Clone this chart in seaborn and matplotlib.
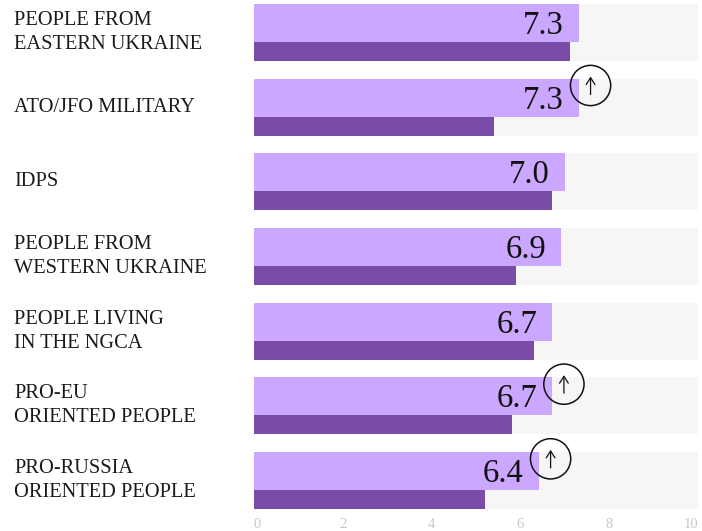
import matplotlib
matplotlib.use("Agg")
import matplotlib.pyplot as plt
from matplotlib.transforms import offset_copy
import pandas as pd
import seaborn as sns

groups = ["PEOPLE FROM\nEASTERN UKRAINE", "ATO/JFO MILITARY", "IDPS",
          "PEOPLE FROM\nWESTERN UKRAINE", "PEOPLE LIVING\nIN THE NGCA",
          "PRO-EU\nORIENTED PEOPLE", "PRO-RUSSIA\nORIENTED PEOPLE"]
current = [7.32, 7.32, 7.0, 6.92, 6.72, 6.72, 6.42]
previous = [7.12, 5.4, 6.72, 5.9, 6.3, 5.8, 5.2]
maximum = [10, 10, 10, 10, 10, 10, 10]
risen = [False, True, False, False, False, True, True]
ticks = [0, 2, 4, 6, 8, 10]

LIGHT, DARK, TRACK, INK, MUTED = "#CBA7FF", "#794CA8", "#F6F6F6", "#111111", "#C8C8C8"

sns.set_theme(style="white")
plt.rcParams["font.family"] = ["Liberation Serif", "DejaVu Serif"]

W, H = 702, 531
fig = plt.figure(figsize=(W / 100, H / 100), dpi=100)
ax = fig.add_axes([254 / W, (H - 509) / H, 444 / W, 509 / H])
df = pd.DataFrame({"group": groups, "current": current, "previous": previous, "maximum": maximum})


def band(col, color, top, bottom):
    n = len(ax.patches)
    sns.barplot(data=df, y="group", x=col, color=color, width=bottom - top, ax=ax,
                saturation=1, orient="h", order=groups)
    for i, p in enumerate(ax.patches[n:]):
        p.set_y(i + top)
        p.set_height(bottom - top)
        p.set_linewidth(0)


band("maximum", TRACK, -0.382, 0.382)
band("current", LIGHT, -0.382, 0.127)
band("previous", DARK, 0.127, 0.382)

ax.set_xlim(0, 10)
ax.set_ylim(6.382, -0.435)
ax.set_xlabel("")
ax.set_ylabel("")
sns.despine(ax=ax, left=True, bottom=True)

ax.set_xticks(ticks)
ax.set_xticklabels([str(t) for t in ticks], fontsize=10.5, color=MUTED)
ax.tick_params(axis="x", length=0, pad=6.5)
xl = ax.get_xticklabels()
xl[0].set_ha("left")
xl[-1].set_ha("right")

ax.tick_params(axis="y", length=0, pad=240 * 0.72)
for t in ax.get_yticklabels():
    t.set_ha("left")
    t.set_fontsize(14.7)
    t.set_color("#1a1a1a")
    t.set_linespacing(1.36)
    t.set_va("center")

for i, (v, up) in enumerate(zip(current, risen)):
    ax.annotate(f"{v:.1f}", (v, i), xytext=(-11, 4.8), textcoords="offset points",
                ha="right", va="center", fontsize=23.5, color=INK)
    if up:
        cx, cy = v + 0.26, i - 0.29
        ax.scatter([cx], [cy], s=840, facecolor="none", edgecolor=INK, linewidth=1.1,
                   zorder=5, clip_on=False)
        ax.annotate("", xy=(cx, cy), xycoords=offset_copy(ax.transData, fig, x=0, y=6.5, units="points"),
                    xytext=(0, -13), textcoords="offset points",
                    arrowprops=dict(arrowstyle="->,head_length=0.55,head_width=0.35", lw=0.9,
                                    color=INK, shrinkA=0, shrinkB=0, mutation_scale=9),
                    zorder=6)

fig.savefig("out.png", dpi=100)
